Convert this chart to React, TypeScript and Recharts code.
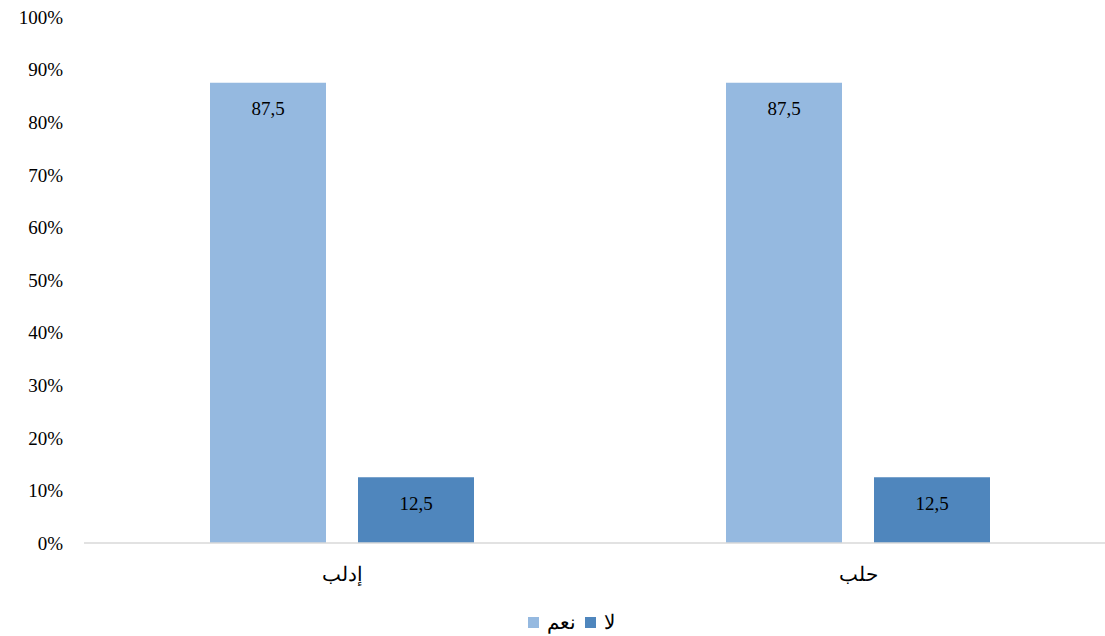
import React from "react";
import { BarChart, Bar, XAxis, YAxis, LabelList, Legend } from "recharts";

const regions = ["إدلب", "حلب"];
const yesValues = [87.5, 87.5];
const noValues = [12.5, 12.5];
const yTicks = [0, 10, 20, 30, 40, 50, 60, 70, 80, 90, 100];

const seriesNames = { yes: "نعم", no: "لا" };
const colors = { yes: "#95B9E0", no: "#4F86BD" };

const data = regions.map((region, i) => ({
  region,
  yes: yesValues[i],
  no: noValues[i],
}));

const FONT = "'Times New Roman', 'Liberation Serif', 'DejaVu Serif', serif";

const formatValue = (v: number) => String(v).replace(".", ",");

const renderLegend = () => (
  <div
    style={{
      display: "flex",
      justifyContent: "center",
      alignItems: "center",
      fontFamily: FONT,
      fontSize: 20,
      color: "#000",
      gap: 9,
      height: 22,
      paddingLeft: 38,
    }}
  >
    {(["yes", "no"] as const).map((key) => (
      <div key={key} style={{ display: "flex", alignItems: "center", gap: 8 }}>
        <span
          style={{
            display: "inline-block",
            width: 11,
            height: 11,
            background: colors[key],
          }}
        />
        <span>{seriesNames[key]}</span>
      </div>
    ))}
  </div>
);

export default function App() {
  return (
    <div
      style={{
        position: "absolute",
        left: 0,
        top: 0,
        width: 1105,
        height: 636,
        overflow: "hidden",
        background: "#fff",
        fontFamily: FONT,
      }}
    >
      <BarChart
        width={1116}
        height={636}
        data={data}
        margin={{ top: 17, right: 0, left: 0, bottom: 31 }}
        barCategoryGap={126}
        barGap={32}
        style={{ fontFamily: FONT }}
      >
        <XAxis
          dataKey="region"
          axisLine={{ stroke: "#D9D9D9", strokeWidth: 1.5 }}
          tickLine={false}
          tickSize={0}
          tickMargin={24}
          height={40}
          tick={{ fill: "#000", fontSize: 20, fontFamily: FONT }}
        />
        <YAxis
          domain={[0, 100]}
          ticks={yTicks}
          interval={0}
          width={84}
          axisLine={false}
          tickLine={false}
          tickSize={0}
          tickMargin={21}
          tickFormatter={(v: number) => `${v}%`}
          tick={{ fill: "#000", fontSize: 19, fontFamily: FONT }}
        />
        <Legend
          content={renderLegend}
          wrapperStyle={{ position: "absolute", top: 611, left: 0, width: 1105 }}
        />
        <Bar dataKey="yes" name={seriesNames.yes} fill={colors.yes} isAnimationActive={false}>
          <LabelList
            dataKey="yes"
            position="insideTop"
            offset={19}
            formatter={formatValue}
            style={{ fill: "#000", fontSize: 19, fontFamily: FONT }}
          />
        </Bar>
        <Bar dataKey="no" name={seriesNames.no} fill={colors.no} isAnimationActive={false}>
          <LabelList
            dataKey="no"
            position="insideTop"
            offset={19}
            formatter={formatValue}
            style={{ fill: "#000", fontSize: 19, fontFamily: FONT }}
          />
        </Bar>
      </BarChart>
    </div>
  );
}
